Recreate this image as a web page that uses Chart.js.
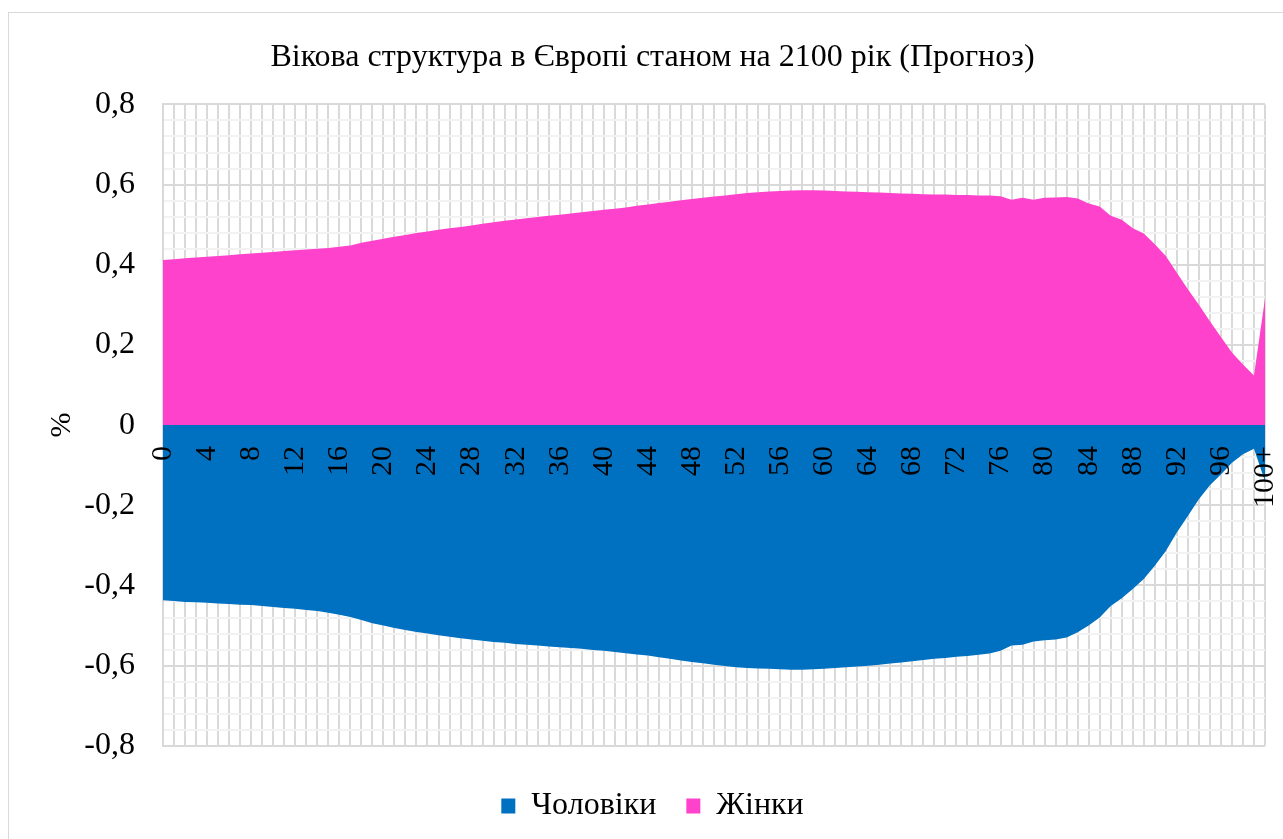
<!DOCTYPE html>
<html>
<head>
<meta charset="utf-8">
<script src="https://cdn.jsdelivr.net/npm/chart.js@4.4.1/dist/chart.umd.min.js"></script>
<style>
  body { margin: 0; background: #ffffff; overflow: hidden; }
  #frame { position: absolute; left: 8px; top: 12px; width: 1300px; height: 860px; border: 1px solid #d9d9d9; }
  #chart { position: absolute; left: 0; top: 0; }
</style>
</head>
<body>
<div id="frame"></div>
<canvas id="chart" width="1283" height="839"></canvas>
<script>
// Age groups 0..100+
const ages = Array.from({ length: 101 }, (_, i) => i === 100 ? "100+" : String(i));

// Share of population, % (men shown as negative values)
const men = [
  -0.437, -0.439, -0.441, -0.442, -0.443, -0.445, -0.446, -0.448, -0.449, -0.451,
  -0.454, -0.456, -0.458, -0.461, -0.464, -0.468, -0.473, -0.479, -0.486, -0.494,
  -0.500, -0.506, -0.511, -0.516, -0.520, -0.524, -0.528, -0.532, -0.535, -0.538,
  -0.541, -0.543, -0.546, -0.548, -0.550, -0.552, -0.554, -0.556, -0.558, -0.561,
  -0.563, -0.566, -0.569, -0.572, -0.575, -0.579, -0.583, -0.587, -0.591, -0.594,
  -0.598, -0.601, -0.604, -0.606, -0.607, -0.608, -0.609, -0.610, -0.610, -0.609,
  -0.608, -0.606, -0.604, -0.602, -0.600, -0.598, -0.595, -0.592, -0.589, -0.586,
  -0.583, -0.581, -0.578, -0.576, -0.573, -0.570, -0.563, -0.550, -0.548, -0.540,
  -0.537, -0.535, -0.530, -0.517, -0.500, -0.480, -0.451, -0.432, -0.409, -0.384,
  -0.351, -0.314, -0.268, -0.227, -0.185, -0.150, -0.123, -0.094, -0.073, -0.059,
  -0.140
];

const women = [
  0.412, 0.414, 0.416, 0.418, 0.420, 0.422, 0.424, 0.426, 0.428, 0.430,
  0.432, 0.434, 0.436, 0.438, 0.440, 0.442, 0.445, 0.448, 0.455, 0.460,
  0.465, 0.470, 0.474, 0.479, 0.483, 0.487, 0.491, 0.494, 0.498, 0.502,
  0.506, 0.510, 0.513, 0.516, 0.519, 0.522, 0.525, 0.528, 0.531, 0.534,
  0.537, 0.540, 0.543, 0.547, 0.550, 0.554, 0.557, 0.561, 0.564, 0.567,
  0.570, 0.573, 0.576, 0.579, 0.581, 0.583, 0.584, 0.585, 0.586, 0.586,
  0.585, 0.584, 0.583, 0.582, 0.581, 0.580, 0.579, 0.578, 0.577, 0.576,
  0.575, 0.575, 0.574, 0.574, 0.573, 0.573, 0.571, 0.562, 0.567, 0.562,
  0.567, 0.568, 0.569, 0.565, 0.553, 0.545, 0.522, 0.512, 0.491, 0.478,
  0.451, 0.422, 0.380, 0.339, 0.300, 0.259, 0.220, 0.181, 0.151, 0.124,
  0.316
];

const serif = "'Liberation Serif', 'Times New Roman', serif";

new Chart(document.getElementById("chart"), {
    type: "line",
    data: {
        labels: ages,
        datasets: [
            {
                label: "Чоловіки",
                data: men,
                backgroundColor: "#0070c0",
                borderWidth: 0,
                pointRadius: 0,
                fill: "origin",
            },
            {
                label: "Жінки",
                data: women,
                backgroundColor: "#ff42cb",
                borderWidth: 0,
                pointRadius: 0,
                fill: "origin",
            },
        ],
    },
    options: {
        responsive: false,
        animation: false,
        layout: { padding: { top: 10, right: 18, bottom: 7, left: 40 } },
        plugins: {
            title: {
                display: true,
                text: "Вікова структура в Європі станом на 2100 рік (Прогноз)",
                color: "#000000",
                font: { family: serif, size: 32, weight: "normal" },
                padding: { top: 28, bottom: 28 },
            },
            legend: {
                position: "bottom",
                // empty title only pushes the items down
                title: { display: true, text: " ", font: { size: 1 }, padding: { top: 13, bottom: 0 } },
                labels: {
                    color: "#000000",
                    font: { family: serif, size: 32 },
                    boxWidth: 14,
                    boxHeight: 15,
                    padding: 30,
                },
            },
            tooltip: { enabled: false },
        },
        scales: {
            x: {
                position: { y: 0 },
                grid: { color: "#d9d9d9", lineWidth: 2, drawTicks: false },
                border: { display: false },
                ticks: {
                    z: 1,
                    autoSkip: false,
                    minRotation: 90,
                    maxRotation: 90,
                    padding: 21,
                    color: "#000000",
                    font: { family: serif, size: 30 },
                    callback: (val, idx) => idx % 4 === 0 ? ages[idx] : "",
                },
                afterFit: (scale) => {
                    scale.paddingLeft = 0;
                    scale.paddingRight = 0;
                },
            },
            y: {
                min: -0.8,
                max: 0.8,
                grid: {
                    drawTicks: false,
                    lineWidth: 2,
                    color: (ctx) => Math.round(ctx.tick.value * 100) % 20 === 0 ? "#d9d9d9" : "#f2f2f2",
                },
                border: { color: "#d9d9d9", width: 2 },
                ticks: {
                    autoSkip: false,
                    stepSize: 0.04,
                    padding: 28,
                    color: "#000000",
                    font: { family: serif, size: 32 },
                    callback: (v) => {
                        const k = Math.round(v * 100);
                        if (k % 20 !== 0) return "";
                        return String(k / 100).replace(".", ",");
                    },
                },
                title: {
                    display: true,
                    text: "%",
                    color: "#000000",
                    font: { family: serif, size: 30 },
                    padding: { top: 4, bottom: 0 },
                },
                afterFit: (scale) => {
                    scale.width = 123;
                    scale.paddingTop = 0;
                    scale.paddingBottom = 0;
                },
            },
        },
    },
});
</script>
</body>
</html>
